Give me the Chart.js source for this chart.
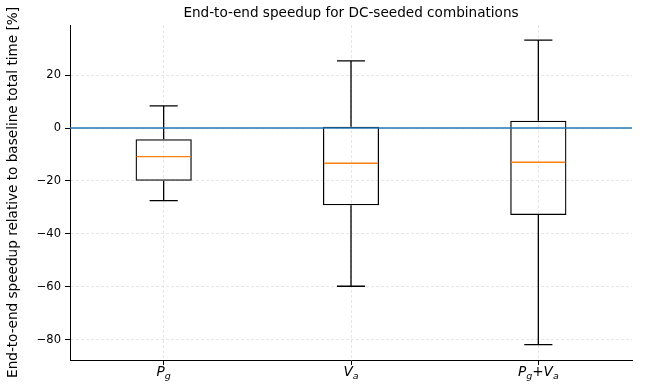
<!DOCTYPE html>
<html>
<head>
<meta charset="utf-8">
<script src="https://cdn.jsdelivr.net/npm/chart.js@4.4.0/dist/chart.umd.min.js"></script>
<style>
html, body { margin: 0; padding: 0; background: #fff; }
canvas { display: block; }
</style>
</head>
<body>
<canvas id="box-chart" width="646" height="385"></canvas>
<script>
// data
const categories = ['P_g', 'V_a', 'P_g+V_a']
const whiskerLow = [-27.4, -59.8, -81.9]
const q1 = [-19.9, -29.2, -32.9]
const median = [-10.8, -13.3, -12.9]
const q3 = [-4.2, 0.5, 2.8]
const whiskerHigh = [8.4, 25.4, 33.3]
const yTicks = [-80, -60, -40, -20, 0, 20]
const baseline = 0
const titleText = 'End-to-end speedup for DC-seeded combinations'

const FONT = 'DejaVu Sans'
const TICK_SIZE = 11.5
const LABEL_SIZE = 13.6
const gridColor = '#e6e6e6'

const contenedorBox = document.querySelector('#box-chart').getContext('2d')

// whiskers, caps, medians and the 0 line, placed with the chart's own scales
const boxParts = {
    id: 'boxParts',
    afterDatasetsDraw(chart) {
        const ctx = chart.ctx
        const y = chart.scales.y
        const area = chart.chartArea
        const bars = chart.getDatasetMeta(0).data
        ctx.save()
        bars.forEach((bar, i) => {
            const cx = bar.x
            const half = bar.width / 2
            const cap = half / 2
            const py = v => y.getPixelForValue(v)
            ctx.strokeStyle = '#000'
            ctx.lineWidth = 1.3
            ctx.beginPath()
            ctx.moveTo(cx, py(q3[i]))
            ctx.lineTo(cx, py(whiskerHigh[i]))
            ctx.moveTo(cx, py(q1[i]))
            ctx.lineTo(cx, py(whiskerLow[i]))
            ctx.moveTo(cx - cap, py(whiskerHigh[i]))
            ctx.lineTo(cx + cap, py(whiskerHigh[i]))
            ctx.moveTo(cx - cap, py(whiskerLow[i]))
            ctx.lineTo(cx + cap, py(whiskerLow[i]))
            ctx.stroke()
            ctx.strokeStyle = '#ff7f0e'
            ctx.lineWidth = 1.4
            ctx.beginPath()
            ctx.moveTo(cx - half + 1, py(median[i]))
            ctx.lineTo(cx + half - 1, py(median[i]))
            ctx.stroke()
        })
        ctx.strokeStyle = '#1f77b4'
        ctx.lineWidth = 1.5
        ctx.beginPath()
        ctx.moveTo(area.left, y.getPixelForValue(baseline))
        ctx.lineTo(area.right, y.getPixelForValue(baseline))
        ctx.stroke()
        ctx.restore()
    },
    // title over the plot area, and x labels like P_g with a small italic subscript
    afterDraw(chart) {
        const ctx = chart.ctx
        const x = chart.scales.x
        const area = chart.chartArea
        ctx.save()
        ctx.fillStyle = '#000'
        ctx.textAlign = 'center'
        ctx.textBaseline = 'alphabetic'
        ctx.font = `${LABEL_SIZE}px "${FONT}"`
        ctx.fillText(titleText, (area.left + area.right) / 2, 17)

        ctx.textAlign = 'left'
        const base = x.top + 16
        categories.forEach((label, i) => {
            const parts = []
            let k = 0
            while (k < label.length) {
                const ch = label[k]
                if (label[k + 1] === '_') {
                    parts.push({t: ch, font: `italic ${LABEL_SIZE}px "${FONT}"`, dy: 0})
                    parts.push({t: label[k + 2], font: `italic ${LABEL_SIZE * 0.7}px "${FONT}"`, dy: 3})
                    k += 3
                } else {
                    const italic = /[A-Za-z]/.test(ch)
                    parts.push({t: ch, font: `${italic ? 'italic ' : ''}${LABEL_SIZE}px "${FONT}"`, dy: 0})
                    k++
                }
            }
            let total = 0
            parts.forEach(p => { ctx.font = p.font; p.w = ctx.measureText(p.t).width; total += p.w })
            let px = x.getPixelForTick(i) - total / 2
            parts.forEach(p => {
                ctx.font = p.font
                ctx.fillText(p.t, px, base + p.dy)
                px += p.w
            })
        })
        ctx.restore()
    }
}

const boxChart = new Chart(contenedorBox, {
    type: 'bar',
    data: {
        labels: categories,
        datasets: [{
            label: 'box',
            data: categories.map((c, i) => [q1[i], q3[i]]),
            backgroundColor: 'rgba(0,0,0,0)',
            borderColor: '#000',
            borderWidth: 1.3,
            borderSkipped: false,
            barPercentage: 0.3,
            categoryPercentage: 1,
        }]
    },
    options: {
        responsive: false,
        animation: false,
        devicePixelRatio: 1,
        layout: { padding: { left: 0, right: 14, top: 25, bottom: 0 } },
        plugins: {
            legend: { display: false },
            tooltip: { enabled: false },
        },
        scales: {
            x: {
                offset: true,
                grid: {
                    offset: false,
                    color: gridColor,
                    drawTicks: true,
                    tickLength: 5,
                    tickColor: '#000',
                    tickWidth: 1,
                },
                border: { display: true, color: '#000', width: 1, dash: [3, 2] },
                ticks: {
                    color: 'rgba(0,0,0,0)',
                    font: { family: FONT, size: TICK_SIZE },
                    padding: 2,
                },
                afterFit: s => { s.height = 25 },
            },
            y: {
                min: -87.7,
                max: 39.0,
                afterBuildTicks: s => { s.ticks = yTicks.map(v => ({value: v})) },
                grid: {
                    color: gridColor,
                    drawTicks: true,
                    tickLength: 5,
                    tickColor: '#000',
                    tickWidth: 1,
                },
                border: { display: true, color: '#000', width: 1, dash: [3, 2] },
                ticks: {
                    color: '#000',
                    padding: 4,
                    font: { family: FONT, size: TICK_SIZE },
                    callback: v => v < 0 ? '\u2212' + Math.abs(v) : String(v),
                },
                title: {
                    display: true,
                    text: 'End-to-end speedup relative to baseline total time [%]',
                    color: '#000',
                    font: { family: FONT, size: LABEL_SIZE },
                    padding: { top: 5, bottom: 0 },
                },
                afterFit: s => { s.width = 70 },
            }
        }
    },
    plugins: [boxParts]
})
</script>
</body>
</html>
